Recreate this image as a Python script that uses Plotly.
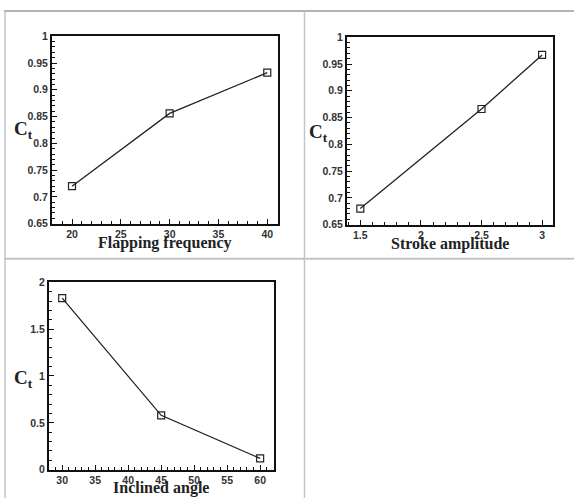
import plotly.graph_objects as go

W, H = 574, 504

freq_x = [20, 30, 40]
freq_ct = [0.72, 0.856, 0.932]
amp_x = [1.5, 2.5, 3]
amp_ct = [0.68, 0.866, 0.967]
angle_x = [30, 45, 60]
angle_ct = [1.83, 0.58, 0.12]

titles = ["Flapping frequency", "Stroke amplitude", "Inclined angle"]

def px_x(v):
    return v / W

def px_y(v):
    return 1 - v / H

fig = go.Figure()

panels = [
    dict(x=freq_x, y=freq_ct, dom_x=(52, 278), dom_y=(31, 223), xr=[17.95, 41.1], yr=[0.65, 1.0],
         xd=5, yd=0.05, xm=1, ym=0.01),
    dict(x=amp_x, y=amp_ct, dom_x=(347, 553), dom_y=(32, 224), xr=[1.39, 3.09], yr=[0.65, 1.0],
         xd=0.5, yd=0.05, xm=0.1, ym=0.01),
    dict(x=angle_x, y=angle_ct, dom_x=(49, 274), dom_y=(283, 475), xr=[28.0, 62.1], yr=[0, 2],
         xd=5, yd=0.5, xm=1, ym=0.1),
]

tickfont = dict(family="Liberation Sans", size=10.5, color="#333", weight="bold")

for i, p in enumerate(panels):
    n = "" if i == 0 else str(i + 1)
    fig.add_trace(go.Scatter(
        x=p["x"], y=p["y"], mode="lines+markers",
        line=dict(color="#222", width=1.3),
        marker=dict(symbol="square-open", size=7, color="#222", line=dict(width=1.2)),
        xaxis="x" + n, yaxis="y" + n, showlegend=False))
    common = dict(showline=True, mirror=True, linecolor="#111", linewidth=2,
                  ticks="inside", ticklen=5, tickcolor="#111", tickwidth=1,
                  showgrid=False, zeroline=False, tickfont=tickfont)
    fig.update_layout(**{
        "xaxis" + n: dict(domain=[px_x(p["dom_x"][0]), px_x(p["dom_x"][1])],
                          range=p["xr"], dtick=p["xd"], tick0=0,
                          anchor="y" + n,
                          minor=dict(dtick=p["xm"], ticks="inside", ticklen=3, tickcolor="#111"),
                          **common),
        "yaxis" + n: dict(domain=[px_y(p["dom_y"][1]), px_y(p["dom_y"][0])],
                          range=p["yr"], dtick=p["yd"], tick0=0,
                          anchor="x" + n,
                          minor=dict(dtick=p["ym"], ticks="inside", ticklen=3, tickcolor="#111"),
                          **common),
    })

annotations = []
title_pos = [(165, 243), (450, 244), (161, 494)]
ct_pos = [(23, 127), (318, 130), (23, 382)]
for t, (tx, ty), (cx, cy) in zip(titles, title_pos, ct_pos):
    annotations.append(dict(text=t, x=px_x(tx), y=px_y(ty), xref="paper", yref="paper",
                            showarrow=False, xanchor="center", yanchor="middle",
                            font=dict(family="Liberation Serif", size=16, color="#222", weight="bold")))
    annotations.append(dict(text="C<sub>t</sub>", x=px_x(cx), y=px_y(cy), xref="paper", yref="paper",
                            showarrow=False, xanchor="center", yanchor="middle",
                            font=dict(family="Liberation Serif", size=19, color="#222", weight="bold")))

shapes = [
    dict(type="line", xref="paper", yref="paper", x0=px_x(4), x1=1, y0=px_y(5), y1=px_y(5),
         line=dict(color="#9a9a9a", width=1.5)),
    dict(type="line", xref="paper", yref="paper", x0=px_x(5), x1=px_x(5), y0=px_y(5), y1=0,
         line=dict(color="#c4c4c4", width=1.5)),
    dict(type="line", xref="paper", yref="paper", x0=px_x(304.5), x1=px_x(304.5), y0=px_y(5), y1=0,
         line=dict(color="#c4c4c4", width=1.5)),
    dict(type="line", xref="paper", yref="paper", x0=px_x(4), x1=1, y0=px_y(259), y1=px_y(259),
         line=dict(color="#c4c4c4", width=2)),
]

fig.update_layout(width=W, height=H, margin=dict(l=0, r=0, t=0, b=0),
                  paper_bgcolor="white", plot_bgcolor="white",
                  annotations=annotations, shapes=shapes)

fig.write_html("out.html")
